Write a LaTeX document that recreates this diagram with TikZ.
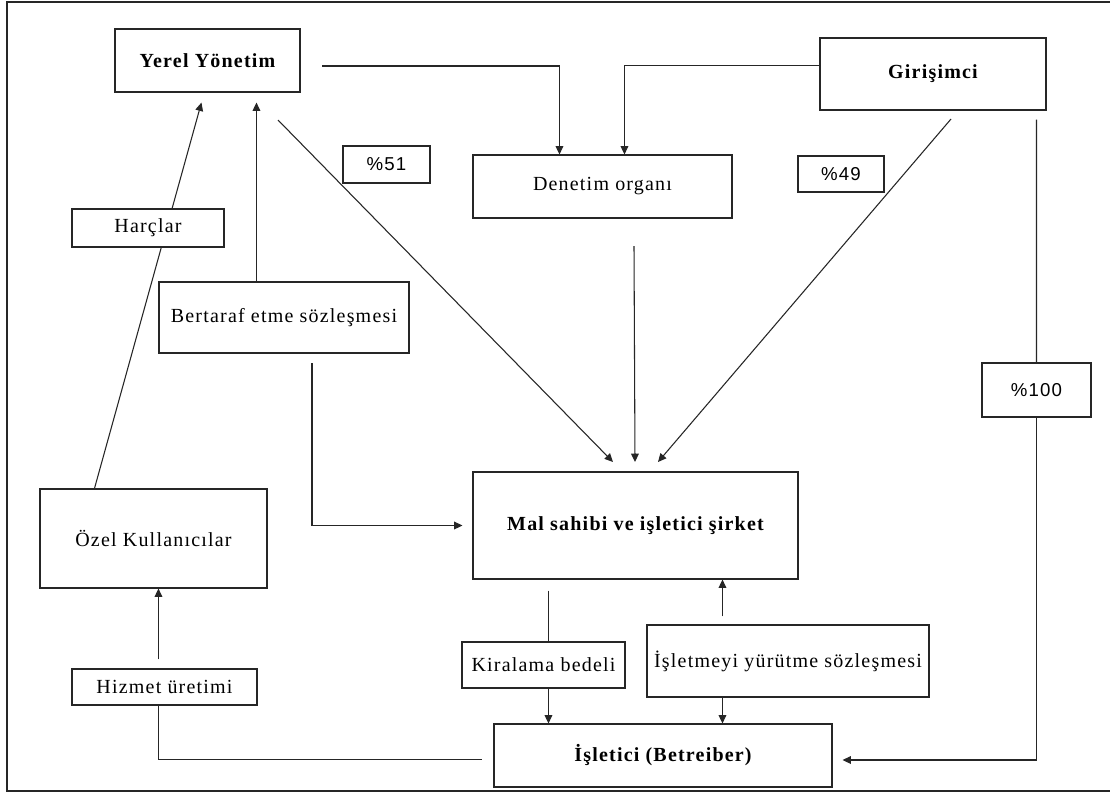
\documentclass[tikz,border=0pt]{standalone}
\usepackage{fontspec}
\setmainfont{Liberation Serif}[LetterSpace=6]
\newfontfamily\pctfont{Liberation Sans}[LetterSpace=6]
\usetikzlibrary{arrows.meta,calc}
\tikzset{
 box/.style={draw=black!85, line width=0.8pt, fill=white, inner sep=0pt},
 sz/.style n args={2}{minimum width=#1*0.75pt, minimum height=#2*0.75pt},
 reg/.style={box, font=\fontsize{15}{17}\selectfont},
 bld/.style={box, font=\fontsize{15}{17}\selectfont\bfseries},
 pct/.style={box, font=\fontsize{14}{16}\selectfont\pctfont},
 ln/.style={draw=black!85, line width=0.8pt},
 arr/.style={ln, -{Triangle[length=6.3pt,width=5.8pt]}},
}
\begin{document}
\begin{tikzpicture}[x=0.75pt,y=-0.75pt]
\useasboundingbox[fill=white] (0,0) rectangle (1110,794);
\draw[ln] (1110,2) -- (7,2) -- (7,791) -- (1110,791);

% nodes
\node[bld, sz={185}{63}] (yerel) at (207.5,60.5) {Yerel Yönetim};
\node[bld, sz={226}{72}] (giris) at (933,74) {Girişimci};
\node[reg, sz={259}{63}] (denetim) at (602.5,186.5) {Denetim organı};
\node[pct, sz={87}{37}] (p51) at (386.5,164.5) {\%51};
\node[pct, sz={86}{36}] (p49) at (841,174) {\%49};
\node[reg, sz={250}{71}] (bertaraf) at (284,317.5) {Bertaraf etme sözleşmesi};
\node[bld, sz={325}{107}] (mal) at (635.5,525.5) {Mal sahibi ve işletici şirket};
\node[reg, sz={227}{99}] (ozel) at (153.5,538.5) {Özel Kullanıcılar};
\node[reg, sz={185}{36}] (hizmet) at (164.5,687) {Hizmet üretimi};
\node[reg, sz={163}{46}] (kiralama) at (543.5,665) {Kiralama bedeli};
\node[reg, sz={282}{72}] (isletmeyi) at (788,661) {İşletmeyi yürütme sözleşmesi};
\node[bld, sz={338}{63}] (isletici) at (663,755.5) {İşletici (Betreiber)};
\node[pct, sz={109}{54}] (p100) at (1036.5,390) {\%100};

% free ends
\coordinate (yA) at (322,66);
\coordinate (yB) at (278,120);
\coordinate (mA) at (613,462);
\coordinate (dA) at (634,246);
\coordinate (mB) at (635,462);
\coordinate (gA) at (951,119);
\coordinate (mC) at (658,462);
\coordinate (bA) at (312,363);

% connectors
\draw[arr] (yA) -| ($(denetim.north west)+(87,0)$);
\draw[arr] ($(giris.north west)+(0,28)$) -| ($(denetim.north west)+(152,0)$);
\draw[arr] (yB) -- (mA);
\draw[arr] (dA) -- (mB);
\draw[arr] (gA) -- (mC);
\draw[arr] ($(bertaraf.north west)+(98,0)$) -- ($(yerel.south west)+(142,10)$);
\draw[arr] ($(ozel.north west)+(55,0)$) -- ($(yerel.south west)+(87,10)$);
\draw[arr] (bA) |- ($(mal.west)+(-10,0)$);
\draw[arr] ($(hizmet.north west)+(87,-9)$) -- ($(ozel.south west)+(119,0)$);
\draw[ln] ($(hizmet.south west)+(87,0)$) |- ($(isletici.west)+(-11,4)$);
\draw[ln] ($(mal.south west)+(76,11)$) -- ($(kiralama.north west)+(87,0)$);
\draw[arr] ($(kiralama.south west)+(87,0)$) -- ($(isletici.north west)+(55,0)$);
\draw[arr] ($(isletmeyi.north west)+(76,-8)$) -- ($(mal.south west)+(250,0)$);
\draw[arr] ($(isletmeyi.south west)+(76,0)$) -- ($(isletici.north west)+(229,0)$);
\draw[ln] ($(giris.south west)+(217,9)$) -- (p100.north);
\draw[arr] (p100.south) |- ($(isletici.east)+(10,4.5)$);

% label box drawn over the line it interrupts
\node[reg, sz={152}{38}] (harclar) at (148,228) {Harçlar};
\end{tikzpicture}
\end{document}
